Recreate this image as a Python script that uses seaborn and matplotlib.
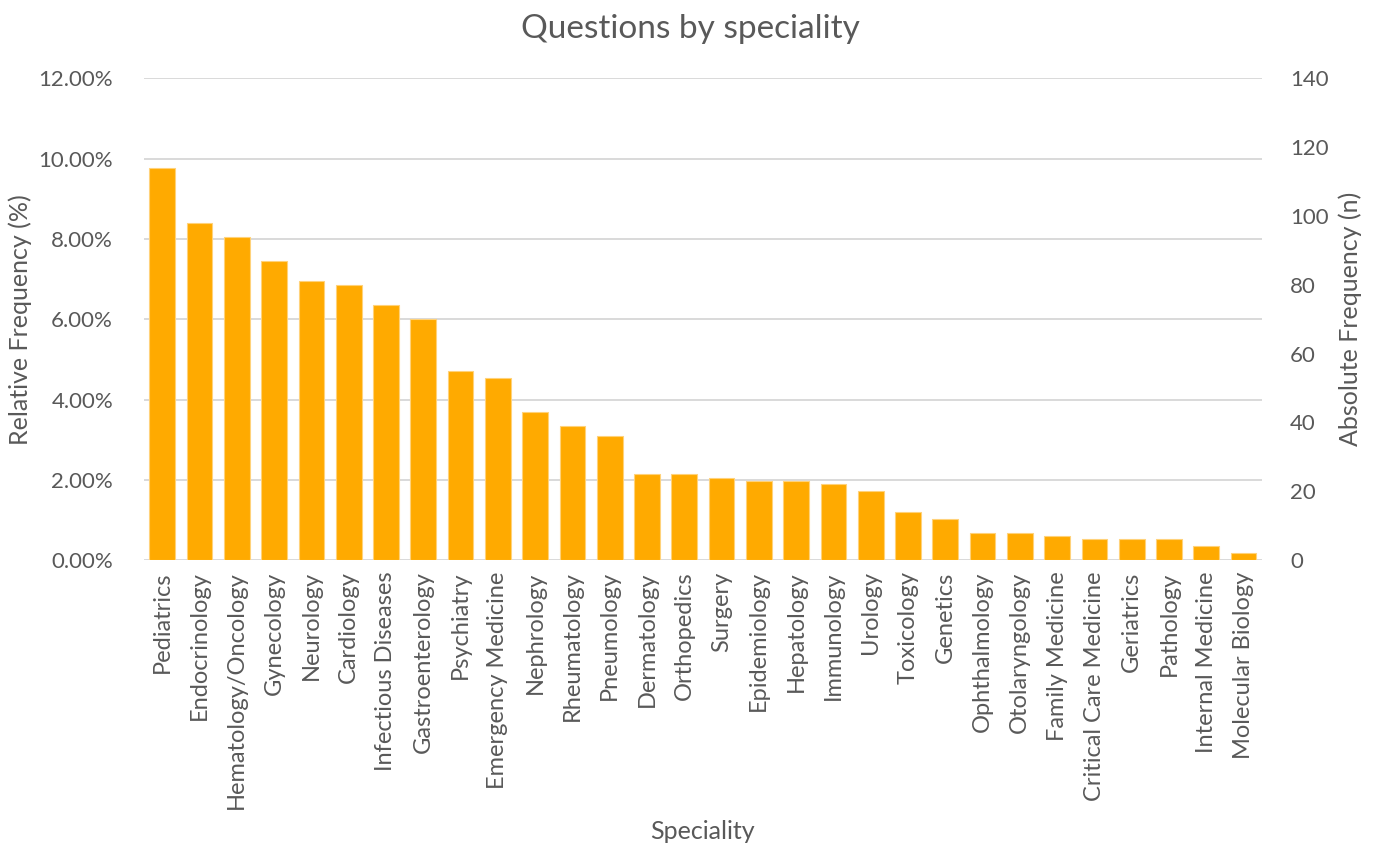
import seaborn as sns
import pandas as pd
import matplotlib.pyplot as plt

specialities = ["Pediatrics", "Endocrinology", "Hematology/Oncology", "Gynecology", "Neurology",
                "Cardiology", "Infectious Diseases", "Gastroenterology", "Psychiatry",
                "Emergency Medicine", "Nephrology", "Rheumatology", "Pneumology", "Dermatology",
                "Orthopedics", "Surgery", "Epidemiology", "Hepatology", "Immunology", "Urology",
                "Toxicology", "Genetics", "Ophthalmology", "Otolaryngology", "Family Medicine",
                "Critical Care Medicine", "Geriatrics", "Pathology", "Internal Medicine",
                "Molecular Biology"]
counts = [114, 98, 94, 87, 81, 80, 74, 70, 55, 53, 43, 39, 36, 25, 25, 24, 23, 23, 22, 20,
          14, 12, 8, 8, 7, 6, 6, 6, 4, 2]
count_ticks = [0, 20, 40, 60, 80, 100, 120, 140]
pct_ticks = [0, 2, 4, 6, 8, 10, 12]

df = pd.DataFrame({"speciality": specialities, "n": counts})

grey = "#595959"
sns.set_theme(style="white")
plt.rcParams["font.family"] = ["Lato", "DejaVu Sans"]

fig = plt.figure(figsize=(13.81, 8.5), dpi=100)
ax = fig.add_axes([0.104, 0.341, 0.81, 0.567])
sns.barplot(data=df, x="speciality", y="n", color="#FFAA00", saturation=1, width=0.69,
            edgecolor="#FFD27A", linewidth=0.8, ax=ax)

# relative frequency axis on the left, same scale (140 <-> 12 %), carries the grid
axp = ax.twinx()
axp.set_ylim(0, 12)
axp.set_yticks(pct_ticks)
axp.set_yticklabels([f"{p:.2f}%" for p in pct_ticks])
axp.yaxis.tick_left()
axp.yaxis.set_label_position("left")
axp.grid(axis="y", color="#D9D9D9", linewidth=1.4)
for s in axp.spines.values():
    s.set_visible(False)
axp.tick_params(axis="y", length=0, pad=22, labelsize=16, labelcolor=grey)
axp.set_ylabel("Relative Frequency (%)", fontsize=18, color=grey)
axp.yaxis.set_label_coords(-0.0995, 0.5)
axp.set_zorder(ax.get_zorder() - 1)
ax.patch.set_visible(False)

# absolute frequency axis on the right
ax.set_xlim(-0.5, len(specialities) - 0.5)
ax.set_ylim(0, 140)
ax.set_yticks(count_ticks)
ax.yaxis.tick_right()
ax.yaxis.set_label_position("right")
for s in ax.spines.values():
    s.set_visible(False)
ax.tick_params(axis="y", length=0, pad=20, labelsize=16, labelcolor=grey)
ax.tick_params(axis="x", length=0, pad=8, labelsize=17, labelcolor=grey, rotation=90)
ax.set_ylabel("Absolute Frequency (n)", fontsize=18, color=grey, rotation=90)
ax.yaxis.set_label_coords(1.068, 0.5)
ax.set_xlabel("Speciality", fontsize=18, color=grey)
ax.xaxis.set_label_coords(0.5, -0.54)

fig.suptitle("Questions by speciality", fontsize=24, color=grey, y=0.983)

plt.savefig("out.png", dpi=100)
